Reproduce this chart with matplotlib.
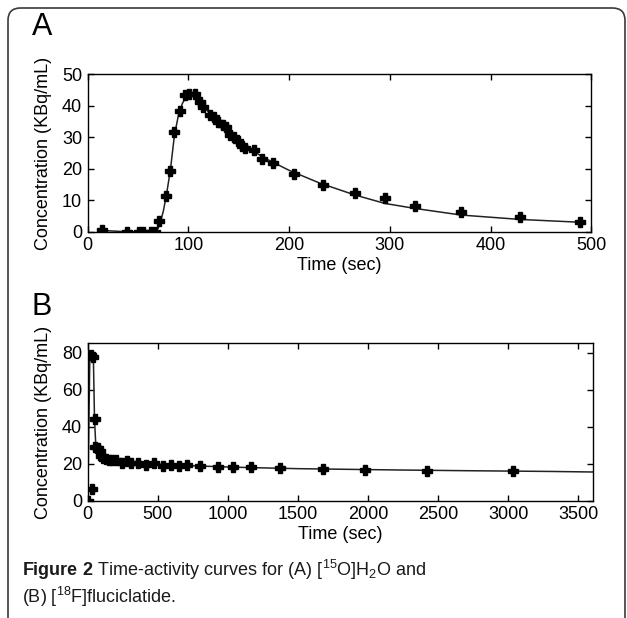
import numpy as np
import matplotlib
matplotlib.use('Agg')
import matplotlib.pyplot as plt
from matplotlib.patches import FancyBboxPatch

plt.rcParams['font.family'] = ['Liberation Sans', 'DejaVu Sans']
plt.rcParams['mathtext.fontset'] = 'custom'
plt.rcParams['mathtext.rm'] = 'Liberation Sans'
plt.rcParams['mathtext.bf'] = 'Liberation Sans:bold'

# Panel A: [15O]H2O measured points
a_time = [14.6, 39.4, 51, 55, 62.6, 66.9, 70.9, 77.5, 81.8, 86.1, 91.7, 96.7,
          101, 106.6, 111, 114.9, 120.9, 125.5, 129.8, 134.1, 137.4, 141.4,
          145.4, 148.7, 153, 156.3, 164.6, 173.5, 184.4, 204.3, 233.6, 265,
          295.5, 325.3, 370.8, 429.7, 489]
a_conc = [0.4, 0, 0, 0, 0, 0, 3.5, 11.2, 19.4, 31.8, 38.5, 43.4,
          43.6, 43.6, 41.3, 39.7, 37.1, 36.3, 35, 33.9, 33.2, 30.7,
          30, 28.9, 27.2, 26.5, 26, 23, 21.9, 18.5, 14.8, 12.4,
          10.6, 8.3, 6.4, 4.6, 3.0]
# Panel A: model fit curve
a_fit_t = [14.6, 39.4, 60, 67, 70, 72, 75, 78, 82, 86, 90, 94, 98, 102, 105,
           110, 120, 130, 140, 150, 160, 175, 200, 230, 265, 295, 325, 371,
           430, 490]
a_fit_c = [0.4, 0, 0, 0.3, 1.2, 3.0, 6.5, 11.5, 19.5, 30.5, 37, 40.8, 43,
           43.8, 43.5, 41.5, 38, 35, 32, 29, 26.5, 23.5, 19.5, 15.5, 11.7,
           9.0, 7.4, 5.3, 3.9, 3.0]

# Panel B: [18F]fluciclatide measured points
b_time = [5, 20, 33, 40, 48, 55, 70, 85, 95, 110, 130, 150, 175, 200, 243,
          279, 310, 355, 417, 474, 540, 595, 652, 707, 802, 931, 1036, 1164,
          1369, 1675, 1974, 2423, 3032]
b_conc = [0, 78.5, 6.1, 77.5, 44, 28.8, 28.3, 27, 24, 23, 22.5, 22, 22, 22,
          20.3, 21.5, 20.2, 20.2, 19.3, 20.2, 18.7, 19.3, 18.7, 19.3, 18.7,
          18, 18, 18, 17.5, 16.9, 16.6, 16.2, 16.2]
# Panel B: model fit curve
b_fit_t = [0, 15, 25, 40, 48, 58, 80, 100, 150, 200, 300, 400, 550, 700,
           850, 1000, 1200, 1500, 1800, 2200, 2700, 3300, 3600]
b_fit_c = [0, 80, 79, 77, 44, 28.5, 26, 24, 22.5, 21.8, 20.8, 20.2, 19.5,
           19, 18.6, 18.2, 17.8, 17.3, 17.0, 16.6, 16.2, 15.8, 15.5]

fig = plt.figure(figsize=(6.27, 6.18), dpi=100)

# rounded frame around figure + caption
frame = FancyBboxPatch((8 / 627, -0.05), 617 / 627, 1.05 - 8 / 618,
                       boxstyle='round,pad=0,rounding_size=0.02',
                       transform=fig.transFigure, fill=False,
                       edgecolor='#3a3a3a', linewidth=1.2, clip_on=False)
fig.patches.append(frame)

fs = 13


def style_axes(ax):
    ax.tick_params(direction='in', top=True, right=True, labelsize=fs,
                   length=4, width=1, pad=4)
    for s in ax.spines.values():
        s.set_linewidth(1)
    ax.set_xlabel('Time (sec)', fontsize=fs, labelpad=2)
    ax.set_ylabel('Concentration (KBq/mL)', fontsize=fs, labelpad=7)


# Panel A
ax1 = fig.add_axes([0.140, 0.625, 0.803, 0.2547])
ax1.plot(a_fit_t, a_fit_c, color='#222222', linewidth=1.1)
ax1.plot(a_time, a_conc, linestyle='none', marker='P', markersize=6.5,
         color='black')
ax1.set_xlim(0, 500)
ax1.set_ylim(0, 50)
ax1.set_xticks([0, 100, 200, 300, 400, 500])
ax1.set_yticks([0, 10, 20, 30, 40, 50])
style_axes(ax1)

# Panel B
ax2 = fig.add_axes([0.140, 0.1898, 0.805, 0.2547])
ax2.plot(b_fit_t, b_fit_c, color='#222222', linewidth=1.1)
ax2.plot(b_time, b_conc, linestyle='none', marker='P', markersize=6.5,
         color='black')
ax2.set_xlim(0, 3600)
ax2.set_ylim(0, 85)
ax2.set_xticks([0, 500, 1000, 1500, 2000, 2500, 3000, 3500])
ax2.set_yticks([0, 20, 40, 60, 80])
style_axes(ax2)

fig.text(32 / 627, 1 - 27 / 618, 'A', fontsize=22, ha='left', va='center')
fig.text(32 / 627, 1 - 307 / 618, 'B', fontsize=22, ha='left', va='center')

cap1 = r'$\mathbf{Figure\ 2}$ Time-activity curves for (A) [$^{15}$O]H$_2$O and'
cap2 = r'(B) [$^{18}$F]fluciclatide.'
fig.text(22 / 627, 1 - 570 / 618, cap1, fontsize=13, ha='left',
         va='center', color='#1a1a1a')
fig.text(22 / 627, 1 - 597 / 618, cap2, fontsize=13, ha='left',
         va='center', color='#1a1a1a')

fig.savefig('out.png', dpi=100)
